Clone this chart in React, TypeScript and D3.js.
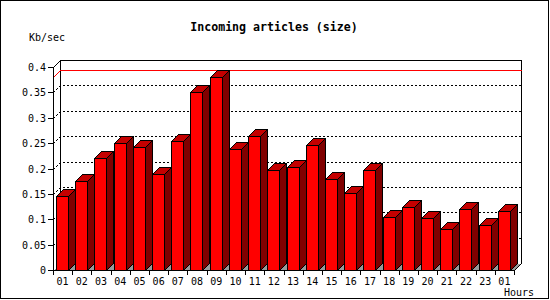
import React from "react";
import * as d3 from "d3";

const hours = ["01","02","03","04","05","06","07","08","09","10","11","12","13","14","15","16","17","18","19","20","21","22","23","01"];
const sizeKb = [0.145,0.175,0.22,0.251,0.243,0.189,0.255,0.35,0.38,0.238,0.264,0.198,0.202,0.246,0.18,0.151,0.198,0.104,0.1235,0.102,0.0815,0.12,0.088,0.1156];
const yTicks = [0,0.05,0.1,0.15,0.2,0.25,0.3,0.35,0.4];
const yTickLabels = ["0","0.05","0.1","0.15","0.2","0.25","0.3","0.35","0.4"];
const title = "Incoming articles (size)";
const yTitle = "Kb/sec";
const xTitle = "Hours";

const W = 550, H = 300;
const D = 7;
const X0 = 53, X1 = 514, Y0 = 270, Y1 = 67;

export default function App() {
  const x = d3.scaleBand<number>().domain(d3.range(hours.length)).range([X0, X1]);
  const y = d3.scaleLinear().domain([0, 0.4]).range([Y0, Y1]);
  const p = (v: number) => Math.round(v) + 0.5;
  const xEnd = Math.round(X0 + x.step() * hours.length);
  const pts = (a: number[][]) => a.map(q => q.join(",")).join(" ");
  const mono = "'DejaVu Sans Mono', monospace";
  const maxV = d3.max(sizeKb) as number;
  const ym = Math.round(y(maxV));

  return (
    <svg width={W} height={H} style={{ position: "absolute", left: 0, top: 0 }} shapeRendering="crispEdges">
      <rect x={0} y={0} width={W} height={H} fill="#fff" />
      <rect x={0.5} y={0.5} width={548} height={298} fill="none" stroke="#000" />
      <text x={274} y={31} textAnchor="middle" fontFamily={mono} fontWeight="bold" fontSize={11.6} fill="#000">{title}</text>
      <text x={29} y={41} fontFamily={mono} fontSize={10} fill="#000">{yTitle}</text>
      <text x={504} y={296} fontFamily={mono} fontSize={10} fill="#000">{xTitle}</text>

      {/* floor */}
      <polygon points={pts([[X0 + 0.5, Y0 + 0.5], [xEnd + 0.5, Y0 + 0.5], [xEnd + D + 0.5, Y0 - D + 0.5], [X0 + D + 0.5, Y0 - D + 0.5]])} fill="#999" />

      {/* back frame */}
      <polyline points={pts([[X0 + 0.5, p(y(0.4))], [X0 + D + 0.5, p(y(0.4)) - D], [xEnd + D + 0.5, p(y(0.4)) - D], [xEnd + D + 0.5, Y0 - D + 0.5], [xEnd + 0.5, Y0 + 0.5]])} fill="none" stroke="#000" />
      <line x1={X0 + D + 0.5} x2={X0 + D + 0.5} y1={p(y(0.4)) - D} y2={Y0 - D + 0.5} stroke="#000" />

      {/* grid */}
      {yTicks.filter(t => t > 0 && t < 0.4).map((t, i) => {
        const yy = p(y(t));
        return (
          <polyline key={i} points={pts([[X0 + 0.5, yy], [X0 + D + 0.5, yy - D], [xEnd + D + 0.5, yy - D]])} fill="none" stroke="#000" strokeDasharray="2,2" />
        );
      })}

      {/* max line */}
      <polyline points={pts([[X0 + 0.5, ym + 0.5], [X0 + D + 0.5, ym - D + 0.5], [xEnd + D + 0.5, ym - D + 0.5]])} fill="none" stroke="#ff0000" />

      {/* bars */}
      {sizeKb.map((v, i) => {
        const xl = Math.round((x(i) as number) + 3) + 0.5;
        const xr = xl + 12;
        const yt = Math.round(y(v)) + 0.5;
        const yb = Y0 + 0.5;
        return (
          <g key={i} stroke="#000" strokeWidth={1}>
            <polygon points={pts([[xl, yt], [xr, yt], [xr, yb], [xl, yb]])} fill="#ff0000" />
            <polygon points={pts([[xr, yb], [xr + D, yb - D], [xr + D, yt - D], [xr, yt]])} fill="#800000" />
            <polygon points={pts([[xl, yt], [xl + D, yt - D], [xr + D, yt - D], [xr, yt]])} fill="#c40000" />
          </g>
        );
      })}

      {/* axes */}
      <line x1={X0 + 0.5} x2={X0 + 0.5} y1={p(y(0.4))} y2={Y0 + 4.5} stroke="#000" />
      <line x1={X0 + 0.5} x2={xEnd + 0.5} y1={Y0 + 0.5} y2={Y0 + 0.5} stroke="#000" />
      {yTicks.map((t, i) => (
        <g key={i}>
          <line x1={X0 - 6 + 0.5} x2={X0 + 0.5} y1={p(y(t))} y2={p(y(t))} stroke="#000" />
          <text x={46} y={Math.round(y(t)) + 4} textAnchor="end" fontFamily={mono} fontSize={10} fill="#000">{yTickLabels[i]}</text>
        </g>
      ))}
      {hours.map((h, i) => {
        const xs = Math.round(x(i) as number) + 0.5;
        return (
          <g key={i}>
            <line x1={xs} x2={xs} y1={Y0 + 0.5} y2={Y0 + 4.5} stroke="#000" />
            <text x={(x(i) as number) + x.bandwidth() / 2} y={285} textAnchor="middle" fontFamily={mono} fontSize={10} fill="#000">{h}</text>
          </g>
        );
      })}
      <line x1={xEnd + 0.5} x2={xEnd + 0.5} y1={Y0 + 0.5} y2={Y0 + 4.5} stroke="#000" />
    </svg>
  );
}
